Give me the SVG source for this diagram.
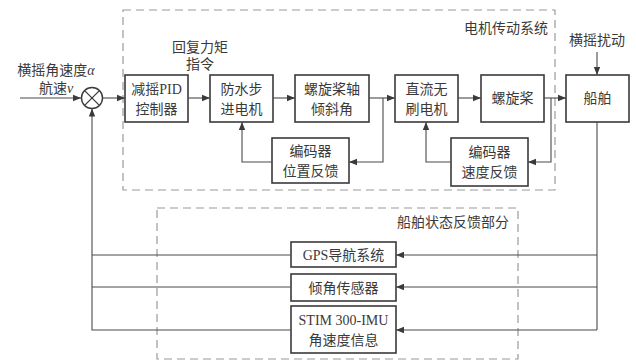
<svg xmlns="http://www.w3.org/2000/svg" width="636" height="360" viewBox="0 0 636 360">
<style>
.bg{fill:#ffffff}
.box{fill:#ffffff;stroke:#3a3a3a;stroke-width:1.6}
.dash{fill:none;stroke:#9a9a9a;stroke-width:1.2;stroke-dasharray:8,5}
.ln{fill:none;stroke:#4a4a4a;stroke-width:1.1}
.t{font-family:"Liberation Serif","Noto Sans CJK SC",serif;font-size:14px;fill:#3a3a3a;text-anchor:middle}
.tr{text-anchor:end}
.it{font-style:italic}
</style>
<defs>
<marker id="ah" viewBox="0 0 10 10" refX="10" refY="5" markerWidth="10" markerHeight="8" markerUnits="userSpaceOnUse" orient="auto">
<path d="M0,1 L10,5 L0,9 Z" fill="#3a3a3a"/>
</marker>
</defs>
<rect class="bg" x="0" y="0" width="636" height="360"/>

<g id="motor-system-frame">
<rect class="dash" x="123" y="10" width="432" height="180"/>
<text class="t tr" x="548" y="33">电机传动系统</text>
</g>
<g id="feedback-frame">
<rect class="dash" x="157" y="208" width="361" height="151"/>
<text class="t tr" x="509" y="227">船舶状态反馈部分</text>
</g>

<g id="input-label">
<text class="t" x="56" y="75">横摇角速度<tspan class="it">α</tspan></text>
<text class="t" x="56" y="93">航速<tspan class="it">v</tspan></text>
</g>
<g id="torque-label">
<text class="t" x="200" y="52">回复力矩</text>
<text class="t" x="200" y="69">指令</text>
</g>
<g id="disturbance-label">
<text class="t" x="597" y="45">横摇扰动</text>
</g>

<g id="sum">
<circle cx="92" cy="98" r="10.5" fill="#fff" stroke="#3a3a3a" stroke-width="1.4"/>
<path d="M84.6,90.6 L99.4,105.4 M99.4,90.6 L84.6,105.4" stroke="#3a3a3a" stroke-width="1.3"/>
</g>

<g id="pid">
<rect class="box" x="125" y="75" width="63" height="47"/>
<text class="t" x="156.5" y="94">减摇PID</text>
<text class="t" x="156.5" y="114">控制器</text>
</g>
<g id="stepper">
<rect class="box" x="210" y="75" width="63" height="47"/>
<text class="t" x="241.5" y="94">防水步</text>
<text class="t" x="241.5" y="114">进电机</text>
</g>
<g id="tilt">
<rect class="box" x="295" y="75" width="74" height="47"/>
<text class="t" x="332" y="94">螺旋桨轴</text>
<text class="t" x="332" y="114">倾斜角</text>
</g>
<g id="bldc">
<rect class="box" x="395" y="75" width="63" height="47"/>
<text class="t" x="426.5" y="94">直流无</text>
<text class="t" x="426.5" y="114">刷电机</text>
</g>
<g id="propeller">
<rect class="box" x="481" y="75" width="63" height="47"/>
<text class="t" x="512.5" y="103">螺旋桨</text>
</g>
<g id="ship">
<rect class="box" x="566" y="75" width="63" height="47"/>
<text class="t" x="597.5" y="103">船舶</text>
</g>
<g id="pos-encoder">
<rect class="box" x="272" y="138" width="77" height="45"/>
<text class="t" x="310.5" y="156">编码器</text>
<text class="t" x="310.5" y="176">位置反馈</text>
</g>
<g id="speed-encoder">
<rect class="box" x="451" y="138" width="77" height="48"/>
<text class="t" x="489.5" y="157">编码器</text>
<text class="t" x="489.5" y="177">速度反馈</text>
</g>
<g id="gps">
<rect class="box" x="291" y="242" width="105" height="25"/>
<text class="t" x="343.5" y="259.5">GPS导航系统</text>
</g>
<g id="incl">
<rect class="box" x="291" y="274" width="105" height="27"/>
<text class="t" x="343.5" y="292.5">倾角传感器</text>
</g>
<g id="imu">
<rect class="box" x="291" y="306" width="105" height="47"/>
<text class="t" x="343.5" y="325">STIM 300-IMU</text>
<text class="t" x="343.5" y="345">角速度信息</text>
</g>

<g id="connectors">
<path class="ln" d="M20,98 H81" marker-end="url(#ah)"/>
<path class="ln" d="M103,98 H125" marker-end="url(#ah)"/>
<path class="ln" d="M188,98 H210" marker-end="url(#ah)"/>
<path class="ln" d="M273,98 H295" marker-end="url(#ah)"/>
<path class="ln" d="M369,98 H395" marker-end="url(#ah)"/>
<path class="ln" d="M383,98 V162 H349" marker-end="url(#ah)"/>
<path class="ln" d="M272,162 H242 V122" marker-end="url(#ah)"/>
<path class="ln" d="M458,98 H481" marker-end="url(#ah)"/>
<path class="ln" d="M544,98 H566" marker-end="url(#ah)"/>
<path class="ln" d="M551,98 V162 H528" marker-end="url(#ah)"/>
<path class="ln" d="M451,162 H426 V122" marker-end="url(#ah)"/>
<path class="ln" d="M597,52 V75" marker-end="url(#ah)"/>
<path class="ln" d="M597,122 V330"/>
<path class="ln" d="M597,255 H396" marker-end="url(#ah)"/>
<path class="ln" d="M597,287 H396" marker-end="url(#ah)"/>
<path class="ln" d="M597,330 H396" marker-end="url(#ah)"/>
<path class="ln" d="M291,255 H92"/>
<path class="ln" d="M291,287 H92"/>
<path class="ln" d="M291,330 H92 V108.5" marker-end="url(#ah)"/>
</g>
</svg>
